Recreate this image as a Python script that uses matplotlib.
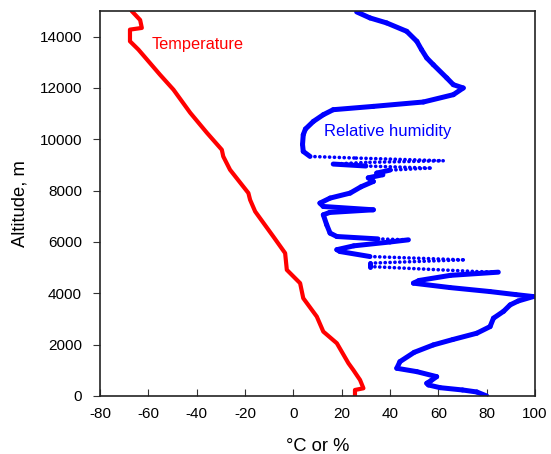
import matplotlib
matplotlib.use("Agg")
import matplotlib.pyplot as plt

plt.rcParams['font.family'] = ['Liberation Sans', 'DejaVu Sans']
plt.rcParams['axes.unicode_minus'] = False

# Temperature profile (deg C) vs altitude (m)
temp_alt = [15000, 14650, 14340, 14274, 13820, 13495, 12520, 11934, 11037, 10257,
            9594, 9333, 8814, 7906, 7644, 7188, 6213, 5565, 4914, 4395,
            3810, 3093, 2508, 2055, 1275, 1014, 624, 300, 234, 0]
temp_val = [-66.9, -63.4, -62.7, -67.6, -67.6, -64.1, -55.2, -49.6, -42.7, -35.8,
            -29.6, -29.0, -26.2, -18.6, -17.9, -15.8, -8.3, -3.4, -2.7, 2.8,
            4.1, 9.7, 12.4, 18.0, 22.8, 24.8, 27.6, 29.0, 25.5, 25.5]

# Relative humidity profile (%) vs altitude (m)
rh_alt = [14964, 14730, 14535, 14208, 13818, 13500, 13170, 12909, 12390, 12129,
          12000, 11739, 11454, 11283, 11154, 10959, 10698, 10400, 10179, 9800,
          9528, 9333, 9270, 9165, 9100, 9036, 8960, 8880, 8800, 8685,
          8620, 8500, 8358, 8150, 7905, 7710, 7515, 7383, 7254, 7150,
          7059, 6669, 6345, 6213, 6120, 6084, 6000, 5850, 5700, 5628,
          5433, 5304, 5175, 5043, 4848, 4824, 4700, 4500, 4395, 4224,
          4068, 3950, 3873, 3700, 3549, 3300, 3030, 2703, 2445, 2200,
          1989, 1700, 1338, 1080, 948, 753, 600, 495, 429, 324,
          234, 156, 0]
rh_val = [26.2, 31.7, 38.6, 46.9, 51.1, 53.0, 55.2, 57.9, 63.5, 66.2,
          70.3, 66.2, 53.8, 33.1, 16.5, 12.4, 8.3, 5.0, 4.1, 3.8,
          4.1, 6.9, 26.0, 62.0, 30.0, 16.5, 30.0, 56.6, 40.0, 34.5,
          37.0, 31.0, 33.1, 28.0, 23.5, 15.2, 11.0, 12.4, 33.1, 15.0,
          12.4, 13.8, 15.2, 18.0, 35.0, 47.6, 40.0, 25.0, 18.0, 19.3,
          31.7, 70.3, 31.7, 31.7, 75.9, 84.8, 65.0, 52.0, 49.7, 64.8,
          81.4, 92.0, 99.3, 93.0, 89.7, 87.0, 82.8, 81.4, 75.9, 66.0,
          57.9, 50.0, 44.1, 42.8, 51.1, 59.3, 57.0, 55.2, 55.9, 60.7,
          70.0, 75.9, 80.0]

x_ticks = [-80, -60, -40, -20, 0, 20, 40, 60, 80, 100]
y_ticks = [0, 2000, 4000, 6000, 8000, 10000, 12000, 14000]

fig = plt.figure(figsize=(5.51, 4.54), dpi=100)
ax = fig.add_axes([0.1815, 0.1278, 0.7895, 0.848])

ax.plot(temp_val, temp_alt, color='#ff0000', lw=3.0, solid_joinstyle='round',
        solid_capstyle='round')

# humidity: fast (near-horizontal) ascents appear as sparse dots
BLUE = '#0000ff'
for i in range(len(rh_val) - 1):
    x0, x1 = rh_val[i], rh_val[i + 1]
    y0, y1 = rh_alt[i], rh_alt[i + 1]
    rate = abs(x1 - x0) / max(abs(y1 - y0) / 1000.0, 1e-6)
    if rate > 200:
        ax.plot([x0, x1], [y0, y1], color=BLUE, lw=2.6,
                linestyle=(0, (0.05, 1.3)), dash_capstyle='round')
    else:
        ax.plot([x0, x1], [y0, y1], color=BLUE, lw=3.6,
                solid_capstyle='round', solid_joinstyle='round')

ax.set_xlim(-80, 100)
ax.set_ylim(0, 15000)
ax.set_xticks(x_ticks)
ax.set_yticks(y_ticks)
ax.tick_params(axis='x', direction='in', length=5, labelsize=11, pad=8, color='#333333')
ax.tick_params(axis='y', direction='out', length=5, labelsize=11, pad=8, color='#333333')
for s in ax.spines.values():
    s.set_color('#222222')
    s.set_linewidth(1.2)

ax.set_xlabel('°C or %', fontsize=13.2, labelpad=12)
ax.set_ylabel('Altitude, m', fontsize=13.2, labelpad=8)

ax.text(-58.5, 13690, 'Temperature', color='#ff0000', fontsize=11.8, va='center', ha='left')
ax.text(12.7, 10296, 'Relative humidity', color=BLUE, fontsize=12, va='center', ha='left')

fig.savefig('out.png', dpi=100)
